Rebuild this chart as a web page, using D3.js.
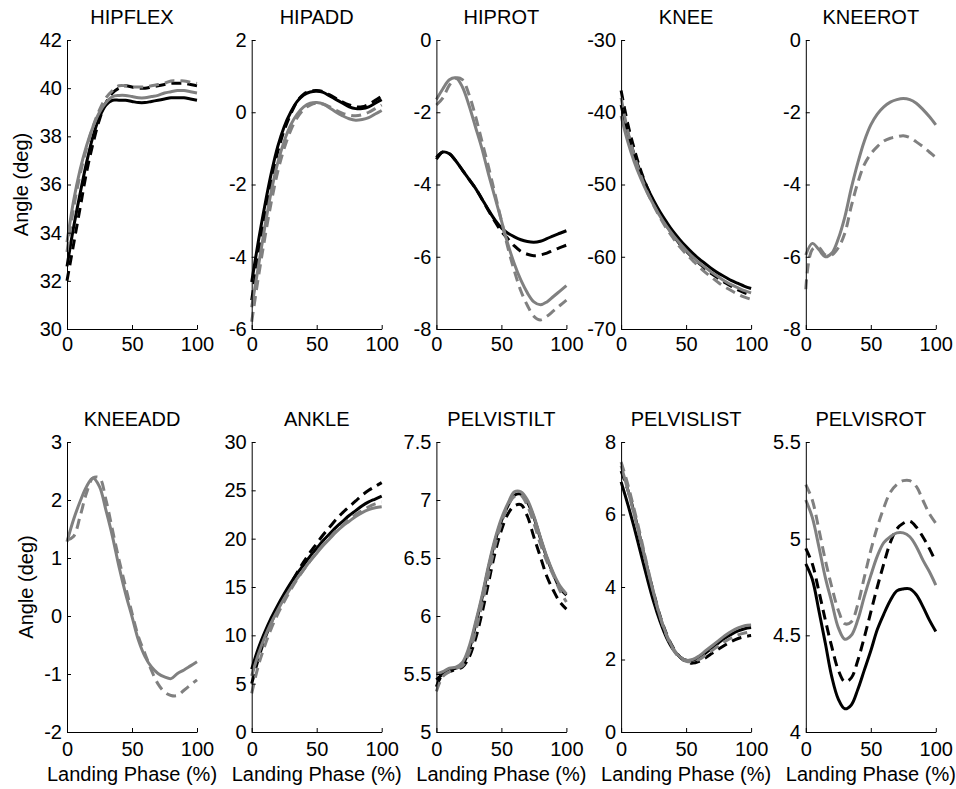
<!DOCTYPE html>
<html>
<head>
<meta charset="utf-8">
<script src="https://cdn.jsdelivr.net/npm/d3@7"></script>
<style>
  body { margin: 0; background: #fff; }
  text { font-family: Arial, "Liberation Sans", sans-serif; }
</style>
</head>
<body>
<svg id="chart" width="956" height="789"></svg>
<script>
// landing phase sample points (%)
const phase = [0, 5, 10, 15, 20, 25, 30, 35, 40, 45, 50, 55, 60, 65, 70, 75, 80, 85, 90, 95, 100];
const phaseTicks = [0, 50, 100];

const titles = ["HIPFLEX", "HIPADD", "HIPROT", "KNEE", "KNEEROT",
                "KNEEADD", "ANKLE", "PELVISTILT", "PELVISLIST", "PELVISROT"];

// each panel: [black solid, black dashed, gray solid, gray dashed]
const hipflex = [
  [32.6, 34.2, 35.6, 36.9, 38.0, 38.8, 39.3, 39.5, 39.5, 39.5, 39.45, 39.4, 39.4, 39.45, 39.5, 39.55, 39.6, 39.6, 39.6, 39.55, 39.5],
  [32.0, 33.5, 35.0, 36.5, 37.7, 38.7, 39.4, 39.8, 40.0, 40.1, 40.05, 40.0, 40.0, 40.05, 40.1, 40.15, 40.2, 40.2, 40.2, 40.15, 40.1],
  [33.6, 35.3, 36.6, 37.6, 38.4, 39.0, 39.4, 39.65, 39.7, 39.7, 39.65, 39.6, 39.6, 39.65, 39.7, 39.8, 39.85, 39.9, 39.9, 39.85, 39.8],
  [33.2, 35.0, 36.4, 37.5, 38.4, 39.1, 39.6, 39.9, 40.1, 40.1, 40.05, 40.05, 40.05, 40.1, 40.15, 40.2, 40.3, 40.3, 40.3, 40.25, 40.2]
];
const hipadd = [
  [-4.7, -3.6, -2.6, -1.7, -0.95, -0.4, 0.0, 0.3, 0.48, 0.56, 0.58, 0.55, 0.45, 0.35, 0.25, 0.15, 0.1, 0.1, 0.15, 0.25, 0.35],
  [-5.2, -4.0, -2.9, -1.9, -1.1, -0.5, -0.05, 0.3, 0.5, 0.58, 0.6, 0.57, 0.48, 0.38, 0.28, 0.2, 0.15, 0.15, 0.22, 0.33, 0.45],
  [-5.4, -4.3, -3.2, -2.2, -1.4, -0.8, -0.35, -0.05, 0.15, 0.25, 0.27, 0.23, 0.12, 0.0, -0.1, -0.18, -0.22, -0.2, -0.15, -0.05, 0.05],
  [-5.8, -4.6, -3.5, -2.5, -1.65, -1.0, -0.5, -0.15, 0.08, 0.2, 0.25, 0.22, 0.15, 0.05, -0.03, -0.08, -0.1, -0.07, 0.0, 0.1, 0.2]
];
const hiprot = [
  [-3.25, -3.1, -3.15, -3.35, -3.6, -3.85, -4.1, -4.4, -4.7, -4.98, -5.2, -5.35, -5.45, -5.53, -5.58, -5.6, -5.57, -5.5, -5.42, -5.35, -5.28],
  [-3.3, -3.1, -3.15, -3.35, -3.6, -3.85, -4.1, -4.4, -4.72, -5.02, -5.3, -5.5, -5.7, -5.85, -5.93, -5.97, -5.95, -5.9, -5.82, -5.75, -5.68],
  [-1.65, -1.35, -1.1, -1.05, -1.3, -1.8, -2.4, -3.0, -3.7, -4.35, -5.0, -5.65, -6.2, -6.65, -7.0, -7.25, -7.33, -7.25, -7.1, -6.95, -6.8],
  [-1.8, -1.6, -1.25, -1.05, -1.1, -1.5, -2.1, -2.8, -3.5, -4.25, -5.0, -5.75, -6.4, -6.95, -7.35, -7.65, -7.75, -7.65, -7.5, -7.35, -7.2]
];
const knee = [
  [-39, -42.8, -45.8, -48.3, -50.4, -52.2, -53.8, -55.2, -56.5, -57.6, -58.6, -59.5, -60.3, -61.0, -61.7, -62.3, -62.8, -63.3, -63.7, -64.1, -64.4],
  [-37, -41.5, -45.0, -48.0, -50.4, -52.4, -54.2, -55.7, -57.0, -58.2, -59.2, -60.1, -60.9, -61.7, -62.4, -63.0, -63.6, -64.1, -64.6, -65.0, -65.3],
  [-40.5, -44.0, -46.8, -49.1, -51.1, -52.8, -54.4, -55.8, -57.0, -58.1, -59.1, -60.0, -60.8, -61.5, -62.2, -62.8, -63.4, -63.9, -64.3, -64.7, -65.0],
  [-38, -42.5, -45.9, -48.7, -51.0, -52.9, -54.6, -56.1, -57.4, -58.6, -59.6, -60.5, -61.4, -62.2, -62.9, -63.6, -64.2, -64.7, -65.2, -65.6, -65.9]
];
const kneerot = [
  [],
  [],
  [-5.95, -5.63, -5.8, -6.0, -5.9, -5.5, -4.9, -4.1, -3.4, -2.8, -2.35, -2.05, -1.85, -1.72, -1.65, -1.62, -1.65, -1.75, -1.92, -2.12, -2.35],
  [-6.9, -5.8, -5.75, -5.95, -5.95, -5.75, -5.35, -4.6, -3.95, -3.45, -3.15, -2.95, -2.8, -2.72, -2.68, -2.65, -2.7, -2.82, -2.95, -3.1, -3.25]
];
const kneeadd = [
  [],
  [],
  [1.28, 1.66, 1.97, 2.23, 2.38, 2.23, 1.82, 1.37, 0.85, 0.39, -0.01, -0.42, -0.7, -0.88, -0.99, -1.05, -1.08, -0.99, -0.93, -0.86, -0.79],
  [1.31, 1.37, 1.71, 2.12, 2.38, 2.38, 2.0, 1.48, 0.97, 0.51, 0.05, -0.36, -0.65, -0.94, -1.17, -1.31, -1.37, -1.37, -1.28, -1.19, -1.1]
];
const ankle = [
  [6.5, 8.6, 10.3, 11.8, 13.1, 14.3, 15.4, 16.4, 17.3, 18.2, 19.0, 19.8, 20.5, 21.2, 21.8, 22.4, 22.9, 23.4, 23.8, 24.1, 24.4],
  [5.0, 7.5, 9.6, 11.3, 12.8, 14.1, 15.3, 16.5, 17.6, 18.6, 19.5, 20.4, 21.2, 22.0, 22.7, 23.3, 23.9, 24.5, 25.0, 25.4, 25.8],
  [5.8, 8.0, 9.8, 11.3, 12.6, 13.8, 14.9, 15.9, 16.8, 17.7, 18.5, 19.3, 20.0, 20.7, 21.3, 21.8, 22.3, 22.7, 23.0, 23.2, 23.3],
  [4.0, 6.8, 8.9, 10.7, 12.2, 13.5, 14.7, 15.8, 16.8, 17.7, 18.6, 19.4, 20.1, 20.8, 21.4, 22.0, 22.5, 22.9, 23.3, 23.6, 23.8]
];
const pelvistilt = [
  [5.45, 5.5, 5.53, 5.55, 5.58, 5.7, 5.92, 6.15, 6.41, 6.64, 6.82, 6.95, 7.04, 7.05, 6.98, 6.85, 6.67, 6.5, 6.36, 6.24, 6.18],
  [5.39, 5.5, 5.52, 5.54, 5.56, 5.64, 5.8, 6.02, 6.28, 6.54, 6.74, 6.88, 6.95, 6.96, 6.86, 6.68, 6.51, 6.34, 6.22, 6.12, 6.06],
  [5.5, 5.52, 5.55, 5.56, 5.6, 5.73, 5.94, 6.17, 6.43, 6.66, 6.84, 6.97, 7.07, 7.07, 7.0, 6.86, 6.68, 6.51, 6.37, 6.26, 6.19],
  [5.35, 5.48, 5.52, 5.55, 5.57, 5.68, 5.86, 6.1, 6.35, 6.6, 6.8, 6.95, 7.03, 7.04, 6.95, 6.8, 6.62, 6.47, 6.35, 6.22, 6.12]
];
const pelvislist = [
  [6.9, 6.3, 5.65, 4.95, 4.25, 3.6, 3.05, 2.6, 2.28, 2.08, 1.98, 1.98, 2.06, 2.18, 2.32, 2.46, 2.59, 2.7, 2.79, 2.85, 2.88],
  [7.2, 6.7, 6.05, 5.3, 4.55, 3.85, 3.2, 2.7, 2.33, 2.08, 1.94, 1.9, 1.95, 2.05, 2.17, 2.29, 2.4, 2.5, 2.58, 2.63, 2.66],
  [7.35, 6.7, 6.02, 5.3, 4.55, 3.83, 3.18, 2.68, 2.31, 2.08, 1.98, 2.0, 2.1, 2.24, 2.38, 2.52, 2.66, 2.78, 2.87, 2.93, 2.95],
  [7.45, 6.85, 6.15, 5.4, 4.6, 3.85, 3.18, 2.66, 2.28, 2.05, 1.95, 1.94, 2.0, 2.12, 2.25, 2.38, 2.5, 2.6, 2.68, 2.73, 2.76]
];
const pelvisrot = [
  [4.87, 4.79, 4.63, 4.46, 4.285, 4.17, 4.12, 4.14, 4.22, 4.32, 4.42, 4.53, 4.61, 4.68, 4.73, 4.74, 4.74, 4.71, 4.65, 4.58, 4.52],
  [4.95, 4.87, 4.73, 4.58, 4.44, 4.32, 4.26, 4.28, 4.37, 4.49, 4.62, 4.75, 4.87, 4.98, 5.05, 5.08, 5.09, 5.06, 5.01, 4.95, 4.88],
  [5.2, 5.11, 4.96, 4.8, 4.67, 4.54, 4.48, 4.5, 4.58, 4.7, 4.81, 4.91, 4.98, 5.01, 5.03, 5.03, 5.01, 4.96, 4.89, 4.83, 4.76],
  [5.28, 5.2, 5.05, 4.89, 4.75, 4.63, 4.56, 4.57, 4.66, 4.8, 4.94, 5.06, 5.16, 5.24, 5.28, 5.3, 5.3, 5.27, 5.2, 5.13, 5.08]
];

// y tick labels per panel
const hipflexTicks = [30, 32, 34, 36, 38, 40, 42];
const hipaddTicks = [-6, -4, -2, 0, 2];
const hiprotTicks = [-8, -6, -4, -2, 0];
const kneeTicks = [-70, -60, -50, -40, -30];
const kneerotTicks = [-8, -6, -4, -2, 0];
const kneeaddTicks = [-2, -1, 0, 1, 2, 3];
const ankleTicks = [0, 5, 10, 15, 20, 25, 30];
const pelvistiltTicks = [5, 5.5, 6, 6.5, 7, 7.5];
const pelvislistTicks = [0, 2, 4, 6, 8];
const pelvisrotTicks = [4, 4.5, 5, 5.5];

const series = [hipflex, hipadd, hiprot, knee, kneerot, kneeadd, ankle, pelvistilt, pelvislist, pelvisrot];
const yTicks = [hipflexTicks, hipaddTicks, hiprotTicks, kneeTicks, kneerotTicks,
                kneeaddTicks, ankleTicks, pelvistiltTicks, pelvislistTicks, pelvisrotTicks];

const lineColor = ["#000", "#000", "#808080", "#808080"];
const lineDash = [null, "10,6", null, "10,6"];

const svg = d3.select("#chart");
const width = 130;
const fontSize = 20;

series.forEach((panel, i) => {
    const col = i % 5, row = Math.floor(i / 5);
    const left = 67 + col * 184.7;
    const top = row ? 442 : 40;
    const height = row ? 290 : 289;

    const g = svg.append("g").attr("transform", `translate(${left},${top})`);

    const x = d3.scaleLinear().domain([0, 100]).range([0, width]);
    const y = d3.scaleLinear().domain(d3.extent(yTicks[i])).range([height, 0]);

    const line = d3.line()
        .x((d, k) => x(phase[k]))
        .y(d => y(d))
        .curve(d3.curveCatmullRom.alpha(0.5));

    panel.forEach((vals, s) => {
        if (!vals.length) return;
        g.append("path")
            .attr("d", line(vals))
            .attr("fill", "none")
            .attr("stroke", lineColor[s])
            .attr("stroke-width", 3)
            .attr("stroke-dasharray", lineDash[s]);
    });

    // axes, ticks point inward like matlab
    const xAxis = g.append("g")
        .attr("transform", `translate(0,${height})`)
        .call(d3.axisBottom(x).tickValues(phaseTicks).tickFormat(d => String(d))
            .tickSizeInner(-4).tickSizeOuter(0).tickPadding(row ? 10 : 8));
    const yAxis = g.append("g")
        .call(d3.axisLeft(y).tickValues(yTicks[i]).tickFormat(d => String(d))
            .tickSizeInner(-4).tickSizeOuter(0).tickPadding(5));

    [xAxis, yAxis].forEach(a => {
        a.attr("font-size", fontSize).attr("font-family", "Arial, 'Liberation Sans', sans-serif");
        a.selectAll("text").attr("fill", "#000");
        a.selectAll("line, path").attr("stroke", "#000");
    });

    g.append("text")
        .attr("x", width / 2)
        .attr("y", -16)
        .attr("text-anchor", "middle")
        .attr("font-size", fontSize)
        .text(titles[i]);

    if (row === 1) {
        g.append("text")
            .attr("x", width / 2)
            .attr("y", height + 49)
            .attr("text-anchor", "middle")
            .attr("font-size", fontSize)
            .text("Landing Phase (%)");
    }

    if (col === 0) {
        g.append("text")
            .attr("transform", `translate(${(row ? 33 : 27.5) - left},${height / 2}) rotate(-90)`)
            .attr("text-anchor", "middle")
            .attr("font-size", fontSize)
            .text("Angle (deg)");
    }
});
</script>
</body>
</html>
